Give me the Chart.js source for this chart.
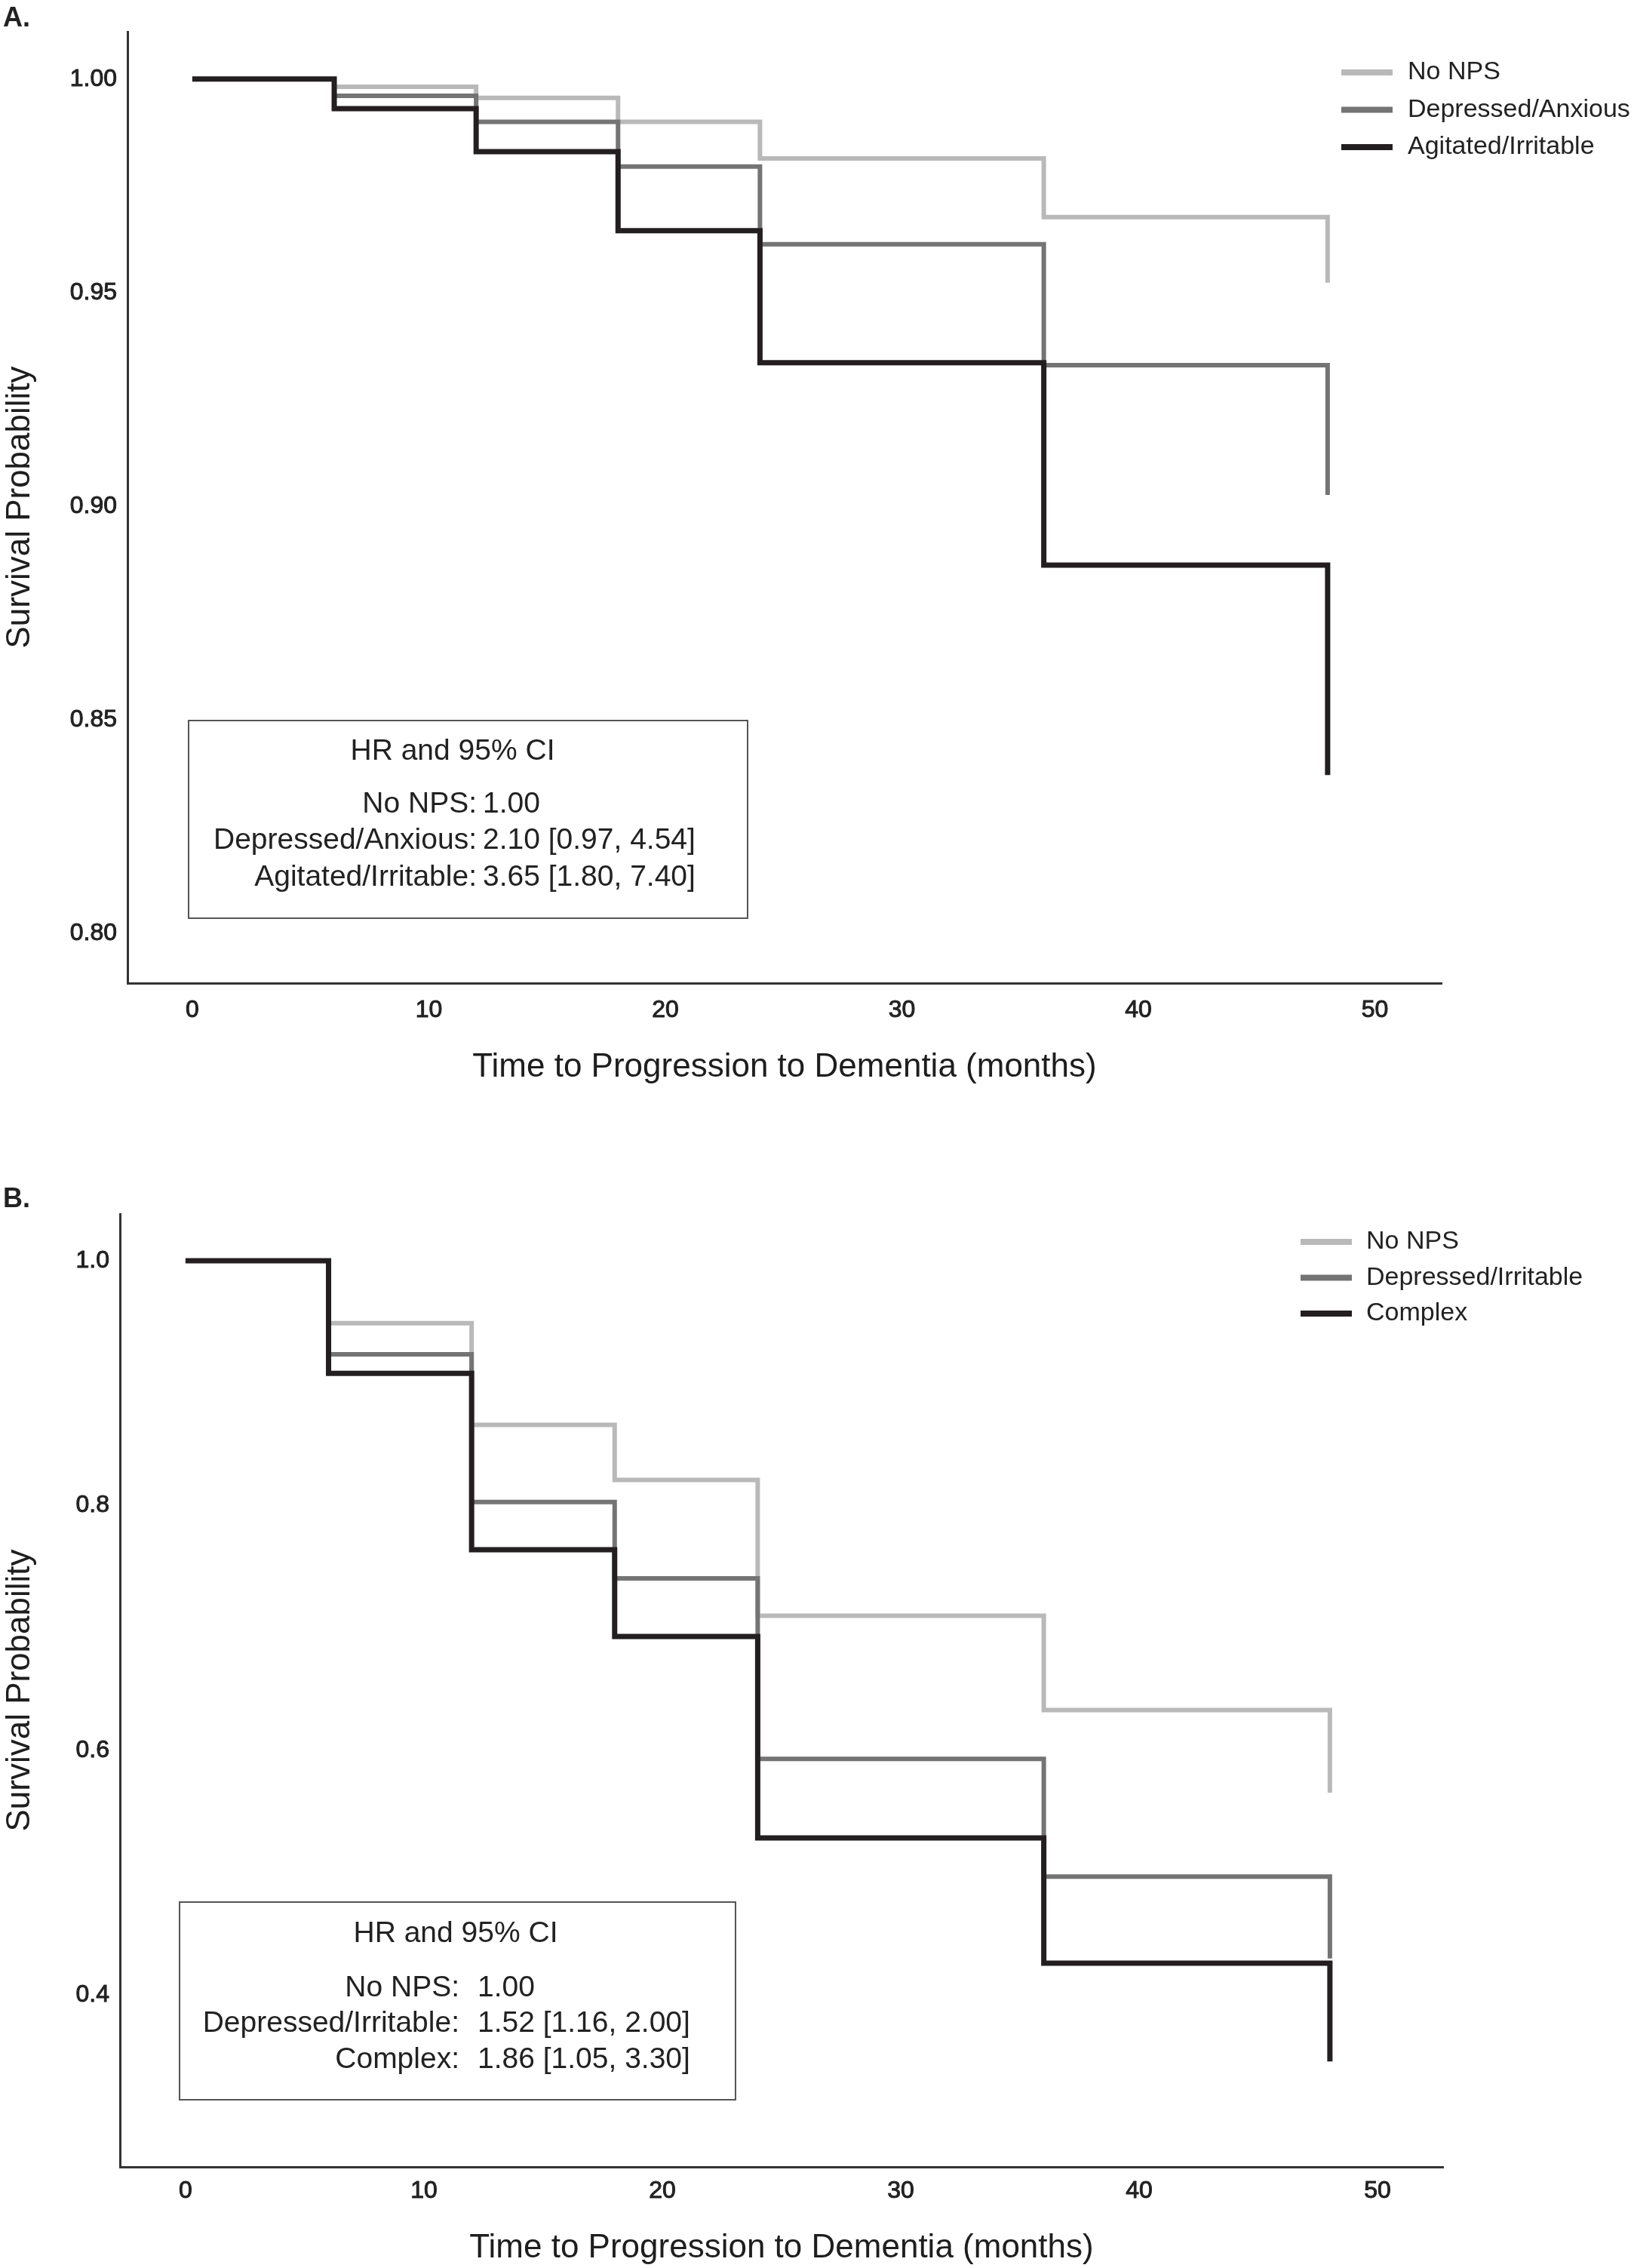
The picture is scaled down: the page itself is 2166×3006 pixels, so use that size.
<!DOCTYPE html>
<html>
<head>
<meta charset="utf-8">
<script src="https://cdn.jsdelivr.net/npm/chart.js@4.4.1/dist/chart.umd.min.js"></script>
<style>
  html, body { margin: 0; padding: 0; background: #fff; }
  #page { position: relative; width: 2166px; height: 3006px; }
  .panel { position: absolute; left: 0; }
  .tag { position: absolute; left: 4px; line-height: 36px; font: bold 36px "Liberation Sans", Arial, sans-serif; color: #222; }
</style>
</head>
<body>
<div id="page">
  <canvas id="chartA" class="panel" width="2166" height="1500" style="top:0"></canvas>
  <canvas id="chartB" class="panel" width="2166" height="1506" style="top:1500px"></canvas>
  <div class="tag" style="top:2px">A.</div>
  <div class="tag" style="top:1567px">B.</div>
</div>
<script>
// follow-up times (months) where the curves step
const times = [0, 6, 12, 18, 24, 36, 48];
const xTicks = [0, 10, 20, 30, 40, 50];

// panel A
const groupsA = ['No NPS', 'Depressed/Anxious', 'Agitated/Irritable'];
const noNpsA  = [1.000, 0.9982, 0.9956, 0.9900, 0.9814, 0.9677, 0.9523];
const depAnxA = [1.000, 0.9961, 0.9900, 0.9795, 0.9613, 0.9330, 0.9026];
const agitA   = [1.000, 0.9931, 0.9830, 0.9645, 0.9336, 0.8862, 0.8370];
const yTicksA = [0.80, 0.85, 0.90, 0.95, 1.00];
const hrLabelsA = ['No NPS:', 'Depressed/Anxious:', 'Agitated/Irritable:'];
const hrValuesA = ['1.00', '2.10 [0.97, 4.54]', '3.65 [1.80, 7.40]'];

// panel B
const groupsB = ['No NPS', 'Depressed/Irritable', 'Complex'];
const noNpsB   = [1.000, 0.949, 0.866, 0.821, 0.710, 0.633, 0.5655];
const depIrrB  = [1.000, 0.9235, 0.803, 0.7405, 0.593, 0.497, 0.430];
const complexB = [1.000, 0.908, 0.764, 0.693, 0.5285, 0.4262, 0.346];
const yTicksB = [0.4, 0.6, 0.8, 1.0];
const hrLabelsB = ['No NPS:', 'Depressed/Irritable:', 'Complex:'];
const hrValuesB = ['1.00', '1.52 [1.16, 2.00]', '1.86 [1.05, 3.30]'];

const lineColors = ['#b9b9b9', '#747474', '#231f20'];
const lineWidths = [6, 6, 7];
const FONT = '"Liberation Sans", Arial, Helvetica, sans-serif';

// legend + HR box drawn on top of the plot
const kmExtras = {
    id: 'kmExtras',
    afterDraw(chart, args, opts) {
        const ctx = chart.ctx;
        ctx.save();

        const lg = opts.legend;
        ctx.font = '34px ' + FONT;
        ctx.textBaseline = 'middle';
        chart.data.datasets.forEach((ds, i) => {
            const y = lg.top + i * lg.gap;
            ctx.strokeStyle = ds.borderColor;
            ctx.lineWidth = 8;
            ctx.beginPath();
            ctx.moveTo(lg.x1, y);
            ctx.lineTo(lg.x2, y);
            ctx.stroke();
            ctx.fillStyle = '#222';
            ctx.textAlign = 'left';
            ctx.fillText(ds.label, lg.textX, y);
        });

        const bx = opts.box;
        ctx.strokeStyle = '#555';
        ctx.lineWidth = 2;
        ctx.strokeRect(bx.left, bx.top, bx.right - bx.left, bx.bottom - bx.top);
        ctx.font = '39px ' + FONT;
        ctx.fillStyle = '#222';
        ctx.textAlign = 'center';
        ctx.fillText('HR and 95% CI', bx.titleX, bx.titleY);
        bx.labels.forEach((lab, i) => {
            const y = bx.rowTop + i * bx.rowGap;
            ctx.textAlign = 'right';
            ctx.fillText(lab, bx.colX, y);
            ctx.textAlign = 'left';
            ctx.fillText(bx.values[i], bx.valX, y);
        });
        ctx.restore();
    }
};

function makeChart(id, cfg) {
    const datasets = cfg.series.map((vals, i) => ({
        label: cfg.groups[i],
        data: times.map((t, j) => ({ x: t, y: vals[j] })),
        borderColor: lineColors[i],
        borderWidth: lineWidths[i],
        borderCapStyle: 'butt',
        borderJoinStyle: 'miter',
        stepped: 'before',
        pointRadius: 0,
        fill: false,
        order: 2 - i
    }));

    const tickFont = { family: FONT, size: 32 };
    const titleFont = { family: FONT, size: 44 };

    return new Chart(document.getElementById(id), {
        type: 'line',
        data: { datasets },
        plugins: [kmExtras],
        options: {
            responsive: false,
            animation: false,
            devicePixelRatio: 1,
            layout: { padding: cfg.padding },
            plugins: {
                legend: { display: false },
                tooltip: { enabled: false },
                kmExtras: cfg.extras
            },
            scales: {
                x: {
                    type: 'linear',
                    min: cfg.xMin, max: cfg.xMax,
                    grid: { display: false, drawTicks: false },
                    border: { display: true, color: '#333', width: 3 },
                    afterBuildTicks: s => { s.ticks = xTicks.map(v => ({ value: v })); },
                    afterFit: s => { s.height = cfg.xAxisHeight; },
                    ticks: {
                        color: '#222', font: tickFont,
                        textStrokeColor: '#222', textStrokeWidth: 1,
                        padding: cfg.xTickPad, maxRotation: 0, autoSkip: false
                    },
                    title: {
                        display: true, text: 'Time to Progression to Dementia (months)',
                        color: '#1e1e1e', font: titleFont, padding: 0
                    }
                },
                y: {
                    type: 'linear',
                    min: cfg.yMin, max: cfg.yMax,
                    grid: { display: false, drawTicks: false },
                    border: { display: true, color: '#333', width: 3 },
                    afterBuildTicks: s => { s.ticks = cfg.yTicks.map(v => ({ value: v })); },
                    afterFit: s => { s.width = cfg.yAxisWidth; },
                    ticks: {
                        color: '#222', font: tickFont,
                        textStrokeColor: '#222', textStrokeWidth: 1,
                        padding: 14, autoSkip: false,
                        callback: v => v.toFixed(cfg.decimals)
                    },
                    title: {
                        display: true, text: 'Survival Probability',
                        color: '#1e1e1e', font: titleFont, padding: 0
                    }
                }
            }
        }
    });
}

makeChart('chartA', {
    groups: groupsA,
    series: [noNpsA, depAnxA, agitA],
    yTicks: yTicksA, decimals: 2,
    xMin: -2.74, xMax: 52.82, yMin: 0.7883, yMax: 1.0111,
    padding: { top: 42, left: 0, right: 255, bottom: 59 },
    yAxisWidth: 169, xAxisHeight: 138, xTickPad: 17,
    extras: {
        legend: { x1: 1778, x2: 1846, textX: 1866, top: 96, gap: 49.5 },
        box: {
            left: 250, right: 991, top: 955, bottom: 1217,
            titleX: 600, titleY: 996,
            labels: hrLabelsA, values: hrValuesA,
            colX: 632, valX: 640, rowTop: 1066, rowGap: 48.5
        }
    }
});

makeChart('chartB', {
    groups: groupsB,
    series: [noNpsB, depIrrB, complexB],
    yTicks: yTicksB, decimals: 1,
    xMin: -2.75, xMax: 52.75, yMin: 0.2598, yMax: 1.0382,
    padding: { top: 109, left: 0, right: 253, bottom: 0 },
    yAxisWidth: 159, xAxisHeight: 134, xTickPad: 13,
    extras: {
        legend: { x1: 1724, x2: 1792, textX: 1811, top: 146, gap: 47.5 },
        box: {
            left: 238, right: 975, top: 1021, bottom: 1283,
            titleX: 604, titleY: 1063,
            labels: hrLabelsB, values: hrValuesB,
            colX: 609, valX: 633, rowTop: 1135, rowGap: 47.5
        }
    }
});
</script>
</body>
</html>
